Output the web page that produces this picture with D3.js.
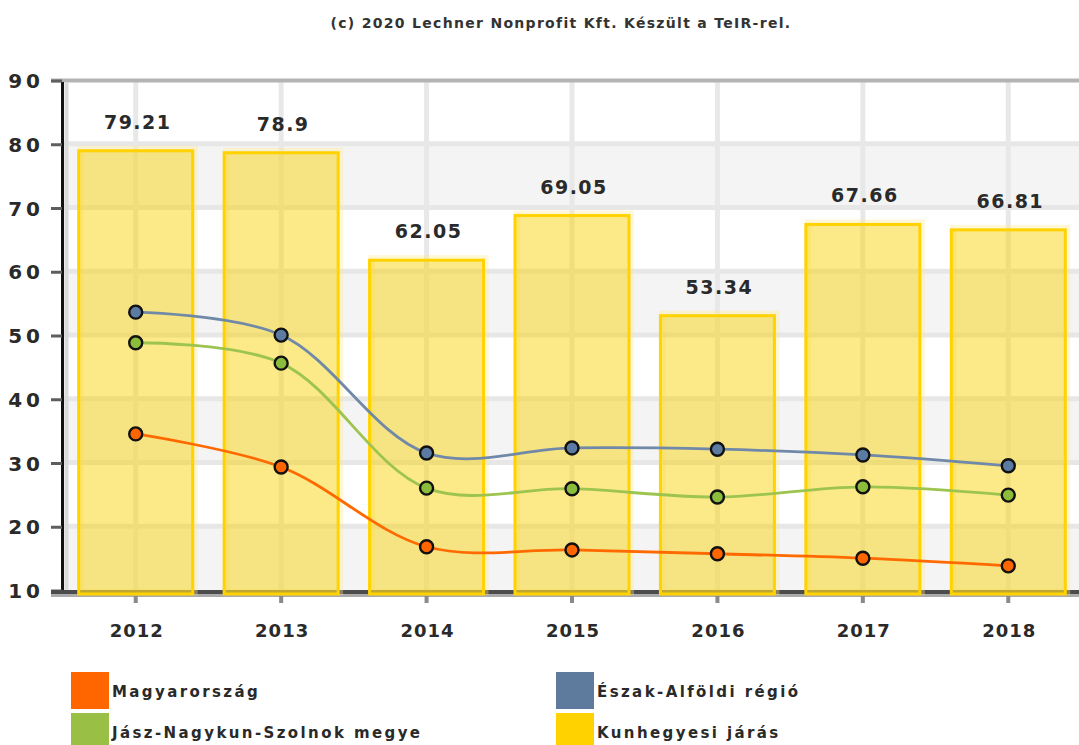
<!DOCTYPE html>
<html>
<head>
<meta charset="utf-8">
<script src="https://cdn.jsdelivr.net/npm/d3@7"></script>
<style>
  html, body { margin: 0; padding: 0; background: #fff; }
  svg { display: block; font-family: "DejaVu Sans", Verdana, sans-serif; }
</style>
</head>
<body>
<svg id="chart" width="1079" height="745"></svg>
<script>
// ---- data ----
const years = ["2012", "2013", "2014", "2015", "2016", "2017", "2018"];
const kunhegyesiJaras = [79.21, 78.9, 62.05, 69.05, 53.34, 67.66, 66.81];
const eszakAlfoldiRegio = [53.9, 50.3, 31.8, 32.6, 32.4, 31.5, 29.8];
const jaszNagykunSzolnok = [49.1, 45.9, 26.3, 26.2, 24.9, 26.5, 25.2];
const magyarorszag = [34.8, 29.6, 17.1, 16.6, 16.0, 15.3, 14.1];
const yTicks = [10, 20, 30, 40, 50, 60, 70, 80, 90];
const seriesNames = ["Magyarország", "Észak-Alföldi régió", "Jász-Nagykun-Szolnok megye", "Kunhegyesi járás"];
const titleText = "(c) 2020 Lechner Nonprofit Kft. Készült a TeIR-rel.";

// ---- layout ----
const W = 1079, H = 745;
const plotLeft = 63, plotRight = 1081, plotTop = 82, plotBottom = 592;
const svg = d3.select("#chart");

const x = d3.scaleBand().domain(years).range([plotLeft, plotRight]).paddingInner(0).paddingOuter(0);
const y = d3.scaleLinear().domain([10, 90]).range([plotBottom, plotTop]);
const cx = d => x(d) + x.bandwidth() / 2;

const lineSeries = [
  { name: seriesNames[1], values: eszakAlfoldiRegio, line: "#7189a8", fill: "#5b7ba3" },
  { name: seriesNames[2], values: jaszNagykunSzolnok, line: "#9cc44f", fill: "#8cbc3c" },
  { name: seriesNames[0], values: magyarorszag, line: "#ff6a00", fill: "#ff6600" }
];

// ---- title ----
svg.append("text")
  .attr("x", 561).attr("y", 28)
  .attr("text-anchor", "middle")
  .attr("font-size", 14).attr("font-weight", "bold")
  .attr("letter-spacing", 1.3)
  .attr("fill", "#333")
  .text(titleText);

// ---- plot background: alternating bands ----
const g = svg.append("g");
g.selectAll("rect.band")
  .data(yTicks.filter(v => v < 90 && ((v - 10) / 10) % 2 === 0))
  .join("rect")
  .attr("class", "band")
  .attr("x", plotLeft).attr("width", plotRight - plotLeft)
  .attr("y", v => y(v + 10)).attr("height", v => y(v) - y(v + 10))
  .attr("fill", "#f4f4f4");

// horizontal grid
g.selectAll("line.hgrid")
  .data(yTicks.filter(v => v > 10 && v < 90))
  .join("line")
  .attr("class", "hgrid")
  .attr("x1", plotLeft).attr("x2", plotRight)
  .attr("y1", v => y(v) - 2).attr("y2", v => y(v) - 2)
  .attr("stroke", "#e7e7e7").attr("stroke-width", 5);

// vertical grid at category centres
g.selectAll("line.vgrid")
  .data(years)
  .join("line")
  .attr("class", "vgrid")
  .attr("x1", cx).attr("x2", cx)
  .attr("y1", plotTop).attr("y2", plotBottom)
  .attr("stroke", "#e8e8e8").attr("stroke-width", 5);

// top border
g.append("line")
  .attr("x1", 51).attr("x2", W).attr("y1", plotTop - 1.5).attr("y2", plotTop - 1.5)
  .attr("stroke", "#b4b4b4").attr("stroke-width", 4);

// y axis line with light shadow
g.append("line")
  .attr("x1", plotLeft + 3.5).attr("x2", plotLeft + 3.5).attr("y1", plotTop).attr("y2", plotBottom)
  .attr("stroke", "#dadada").attr("stroke-width", 4);
g.append("line")
  .attr("x1", plotLeft - 0.5).attr("x2", plotLeft - 0.5).attr("y1", plotTop).attr("y2", plotBottom + 2)
  .attr("stroke", "#111").attr("stroke-width", 3);

// y ticks
g.selectAll("line.ytick")
  .data(yTicks)
  .join("line")
  .attr("class", "ytick")
  .attr("x1", 51).attr("x2", plotLeft - 1)
  .attr("y1", v => y(v) - 1).attr("y2", v => y(v) - 1)
  .attr("stroke", "#5e5e5e").attr("stroke-width", 3);

// y labels
g.selectAll("text.ylab")
  .data(yTicks)
  .join("text")
  .attr("class", "ylab")
  .attr("x", 44).attr("y", v => y(v) + 6)
  .attr("text-anchor", "end")
  .attr("font-size", 20).attr("font-weight", "bold")
  .attr("letter-spacing", 4)
  .attr("fill", "#2a2a2a")
  .text(d => d);

// x axis line
g.append("line")
  .attr("x1", 51).attr("x2", W).attr("y1", plotBottom + 3.5).attr("y2", plotBottom + 3.5)
  .attr("stroke", "#ababab").attr("stroke-width", 3);
g.append("line")
  .attr("x1", 51).attr("x2", W).attr("y1", plotBottom).attr("y2", plotBottom)
  .attr("stroke", "#4c4c4c").attr("stroke-width", 4);

// x ticks
g.selectAll("line.xtick")
  .data(years)
  .join("line")
  .attr("class", "xtick")
  .attr("x1", cx).attr("x2", cx)
  .attr("y1", plotBottom + 4).attr("y2", plotBottom + 11)
  .attr("stroke", "#8a8a8a").attr("stroke-width", 4);

// x labels
g.selectAll("text.xlab")
  .data(years)
  .join("text")
  .attr("class", "xlab")
  .attr("x", d => cx(d) + 1).attr("y", 637)
  .attr("text-anchor", "middle")
  .attr("font-size", 18).attr("font-weight", "bold")
  .attr("letter-spacing", 1)
  .attr("fill", "#2a2a2a")
  .text(d => d);

// ---- bars ----
const barW = 114;
const bars = years.map((yr, i) => ({ yr, v: kunhegyesiJaras[i] }));
g.selectAll("rect.barhalo")
  .data(bars)
  .join("rect")
  .attr("class", "barhalo")
  .attr("x", d => cx(d.yr) - barW / 2 + 2)
  .attr("y", d => y(d.v) - 2)
  .attr("width", barW)
  .attr("height", d => plotBottom + 2 - y(d.v))
  .attr("fill", "none")
  .attr("stroke", "#ffe88a").attr("stroke-opacity", 0.35).attr("stroke-width", 6);
g.selectAll("rect.bar")
  .data(bars)
  .join("rect")
  .attr("class", "bar")
  .attr("x", d => cx(d.yr) - barW / 2)
  .attr("y", d => y(d.v))
  .attr("width", barW)
  .attr("height", d => plotBottom + 2 - y(d.v))
  .attr("fill", "#f8d000").attr("fill-opacity", 0.47)
  .attr("stroke", "#ffd200").attr("stroke-width", 3);

// bar value labels
g.selectAll("text.barlab")
  .data(bars)
  .join("text")
  .attr("class", "barlab")
  .attr("x", d => cx(d.yr) + 2).attr("y", d => y(d.v) - 22)
  .attr("text-anchor", "middle")
  .attr("font-size", 19).attr("font-weight", "bold")
  .attr("letter-spacing", 1.5)
  .attr("fill", "#2a2a2a")
  .text(d => d.v);

// ---- lines ----
const lineGen = d3.line()
  .x((d, i) => cx(years[i]))
  .y(d => y(d))
  .curve(d3.curveCatmullRom.alpha(0.5));

lineSeries.forEach(s => {
  g.append("path")
    .datum(s.values)
    .attr("d", lineGen)
    .attr("fill", "none")
    .attr("stroke", s.line)
    .attr("stroke-width", 2.8);
});
lineSeries.forEach(s => {
  g.selectAll(null)
    .data(s.values)
    .join("circle")
    .attr("cx", (d, i) => cx(years[i]))
    .attr("cy", d => y(d))
    .attr("r", 6.5)
    .attr("fill", s.fill)
    .attr("stroke", "#111").attr("stroke-width", 2.4);
});

// ---- legend ----
const legendItems = [
  { name: seriesNames[0], color: "#ff6600", lx: 71, ly: 672 },
  { name: seriesNames[1], color: "#5e7a9c", lx: 556, ly: 672 },
  { name: seriesNames[2], color: "#99bf45", lx: 71, ly: 713 },
  { name: seriesNames[3], color: "#ffd200", lx: 556, ly: 713 }
];
const lg = svg.append("g");
lg.selectAll("rect")
  .data(legendItems)
  .join("rect")
  .attr("x", d => d.lx).attr("y", d => d.ly)
  .attr("width", 38).attr("height", 37)
  .attr("fill", d => d.color);
lg.selectAll("text")
  .data(legendItems)
  .join("text")
  .attr("x", d => d.lx + 41).attr("y", d => d.ly + 25)
  .attr("font-size", 15).attr("font-weight", "bold")
  .attr("letter-spacing", 2.4)
  .attr("fill", "#2a2a2a")
  .text(d => d.name);
</script>
</body>
</html>
